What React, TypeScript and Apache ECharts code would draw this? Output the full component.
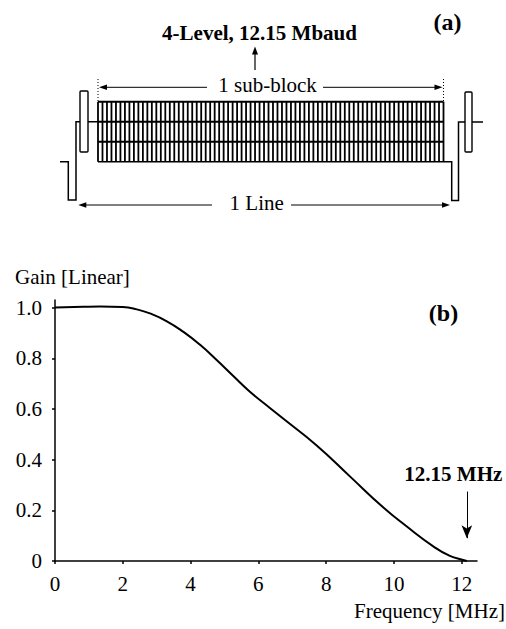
import React, { useEffect, useRef } from "react";
import * as echarts from "echarts";

// ---- data ----
const freqMHz = [0, 0.84, 1.33, 2.0, 2.41, 2.8, 3.3, 3.79, 4.28, 4.77, 5.26, 5.75, 6.34, 6.73, 7.72, 8.7, 9.68, 10.37, 11.16, 11.65, 12.04, 12.15];
const gainLinear = [1.0, 1.003, 1.004, 1.002, 0.993, 0.977, 0.946, 0.904, 0.853, 0.793, 0.73, 0.668, 0.604, 0.562, 0.456, 0.334, 0.212, 0.137, 0.058, 0.02, 0.004, 0.0];
const xTickValues = [0, 2, 4, 6, 8, 10, 12];
const yTickValues = [0, 0.2, 0.4, 0.6, 0.8, 1.0];
const cutoffMHz = 12.15;
const cutoffLabel = "12.15 MHz";
const symbolRateLabel = "4-Level, 12.15 Mbaud";
const subBlockLabel = "1 sub-block";
const lineLabel = "1 Line";
const symbolColumns = 78;
const symbolLevels = 4;

const SERIF = '"Liberation Serif", "Times New Roman", serif';

function arrowHead(tipX: number, tipY: number, dir: "left" | "right" | "up", len = 8, half = 2.8) {
  let pts: number[][];
  if (dir === "left") pts = [[tipX, tipY], [tipX + len, tipY - half], [tipX + len, tipY + half]];
  else if (dir === "right") pts = [[tipX, tipY], [tipX - len, tipY - half], [tipX - len, tipY + half]];
  else pts = [[tipX, tipY], [tipX - half, tipY + len], [tipX + half, tipY + len]];
  return { type: "polygon", shape: { points: pts }, style: { fill: "#000" }, silent: true };
}

function txt(text: string, x: number, y: number, size: number, bold: boolean, align: string) {
  return {
    type: "text",
    x,
    y,
    silent: true,
    style: {
      text,
      fill: "#000",
      fontFamily: SERIF,
      fontSize: size,
      fontWeight: bold ? "bold" : "normal",
      align,
      verticalAlign: "middle",
    },
  };
}

function ln(x1: number, y1: number, x2: number, y2: number, w = 1.2, dash?: number[]) {
  return {
    type: "line",
    silent: true,
    shape: { x1, y1, x2, y2 },
    style: { stroke: "#000", lineWidth: w, lineDash: dash },
  };
}

function buildDiagram() {
  const els: any[] = [];
  const gL = 98, gR = 443.5, gT = 101.7, gB = 161.7;
  for (let i = 0; i < symbolColumns; i++) {
    const x = gL + ((gR - gL) * i) / (symbolColumns - 1);
    els.push(ln(x, gT, x, gB, 1.8));
  }
  for (let j = 0; j < symbolLevels - 1; j++) {
    const y = gT + ((gB - gT) * j) / (symbolLevels - 1);
    els.push(ln(gL, y, gR, y, 2));
  }
  els.push({
    type: "polyline",
    silent: true,
    shape: { points: [[60, gB], [68.3, gB], [68.3, 200], [76, 200], [76, 121.7], [gL, 121.7]] },
    style: { stroke: "#000", lineWidth: 1.5, fill: null },
  });
  els.push({
    type: "polyline",
    silent: true,
    shape: { points: [[gL, gB], [451.7, gB], [451.7, 200.5], [458.5, 200.5], [458.5, 122], [483, 122]] },
    style: { stroke: "#000", lineWidth: 1.5, fill: null },
  });
  els.push({ type: "rect", silent: true, shape: { x: 80, y: 91, width: 8, height: 61, r: 1 }, style: { fill: "#fff", stroke: "#000", lineWidth: 1.4 } });
  els.push({ type: "rect", silent: true, shape: { x: 465, y: 92, width: 7, height: 60, r: 1 }, style: { fill: "#fff", stroke: "#000", lineWidth: 1.4 } });
  els.push(ln(gL, 79, gL, gT, 1, [1, 2]));
  els.push(ln(gR, 79, gR, gT, 1, [1, 2]));
  els.push(ln(gL + 4, 87.3, 207, 87.3, 1));
  els.push(ln(323, 87.3, gR - 4, 87.3, 1));
  els.push(arrowHead(gL + 1, 87.3, "left"));
  els.push(arrowHead(gR - 1, 87.3, "right"));
  els.push(txt(subBlockLabel, 267.5, 85, 21, false, "center"));
  els.push(ln(82, 205, 212, 205, 1));
  els.push(ln(291, 205, 446, 205, 1));
  els.push(arrowHead(78.3, 205, "left"));
  els.push(arrowHead(450, 205, "right"));
  els.push(txt(lineLabel, 256.7, 203, 21, false, "center"));
  els.push(ln(255, 70, 255, 52, 1.2));
  els.push(arrowHead(255, 46.5, "up", 8, 3));
  els.push(txt(symbolRateLabel, 259.5, 32.5, 21, true, "center"));
  els.push(txt("(a)", 447.5, 22, 24, true, "center"));
  els.push(txt("Gain [Linear]", 15, 277, 21, false, "left"));
  els.push(txt("(b)", 443.5, 313, 24, true, "center"));
  els.push(txt(cutoffLabel, 453.3, 474, 21, true, "center"));
  els.push(txt("Frequency [MHz]", 505, 611, 21, false, "right"));
  return els;
}

export default function App() {
  const ref = useRef<HTMLDivElement>(null);
  useEffect(() => {
    if (!ref.current) return;
    const chart = echarts.init(ref.current, null, { renderer: "svg" });
    const data = freqMHz.map((f, i) => [f, gainLinear[i]]);
    chart.setOption({
      animation: false,
      backgroundColor: "#fff",
      grid: { left: 55, right: 29, top: 300, bottom: 68, containLabel: false },
      xAxis: {
        type: "value",
        min: 0,
        max: 12.45,
        interval: 2,
        axisLine: { lineStyle: { color: "#000", width: 1.5 } },
        axisTick: { show: true, inside: false, length: 3, customValues: xTickValues, lineStyle: { color: "#000", width: 1.5 } },
        axisLabel: {
          customValues: xTickValues,
          color: "#000",
          fontFamily: SERIF,
          fontSize: 21,
          margin: 12,
        },
        splitLine: { show: false },
      },
      yAxis: {
        type: "value",
        min: 0,
        max: 1.03,
        interval: 0.2,
        axisLine: { show: true, lineStyle: { color: "#000", width: 1.5 } },
        axisTick: { show: true, inside: false, length: 3, customValues: yTickValues, lineStyle: { color: "#000", width: 1.5 } },
        axisLabel: {
          customValues: yTickValues,
          color: "#000",
          fontFamily: SERIF,
          fontSize: 21,
          margin: 13,
          formatter: (v: number) => (v === 0 ? "0" : v.toFixed(1)),
        },
        splitLine: { show: false },
      },
      series: [
        {
          type: "line",
          data,
          showSymbol: false,
          smooth: 0.5,
          lineStyle: { color: "#000", width: 2 },
          markLine: {
            silent: true,
            animation: false,
            symbol: ["none", "arrow"],
            symbolSize: [8, 13],
            label: { show: false },
            lineStyle: { color: "#000", width: 1, type: "solid" },
            data: [[{ coord: [cutoffMHz, 0.274] }, { coord: [cutoffMHz, 0.09] }]],
          },
        },
      ],
      graphic: buildDiagram(),
    });
    return () => chart.dispose();
  }, []);
  return <div ref={ref} style={{ position: "absolute", left: 0, top: 0, width: 506, height: 629 }} />;
}
